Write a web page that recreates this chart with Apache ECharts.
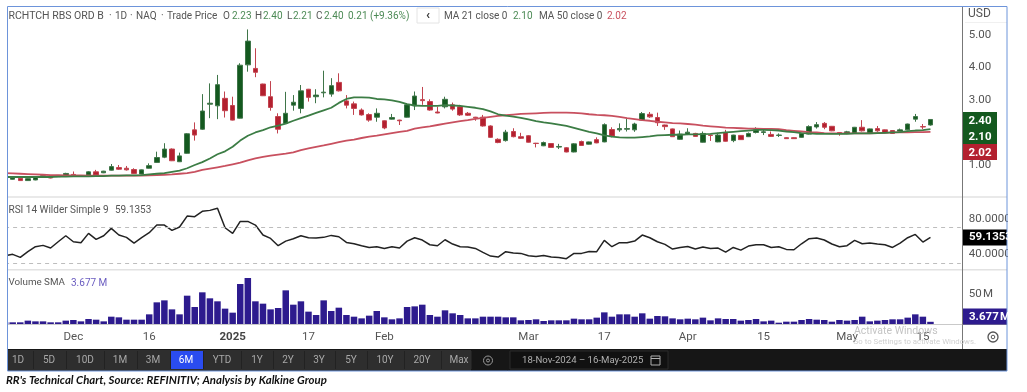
<!DOCTYPE html>
<html>
<head>
<meta charset="utf-8">
<title>RR technical chart</title>
<script src="https://cdn.jsdelivr.net/npm/echarts@6/dist/echarts.min.js"></script>
<style>
  html, body { margin: 0; padding: 0; background: #fff; }
  #chart { width: 1027px; height: 392px; }
</style>
</head>
<body>
<div id="chart"></div>
<script>
// trading days shown, first one sits just off the left edge of the plot
const dates = [
  '2024-11-18','2024-11-19','2024-11-20','2024-11-21','2024-11-22','2024-11-25','2024-11-26','2024-11-27','2024-11-29',
  '2024-12-02','2024-12-03','2024-12-04','2024-12-05','2024-12-06','2024-12-09','2024-12-10','2024-12-11','2024-12-12','2024-12-13',
  '2024-12-16','2024-12-17','2024-12-18','2024-12-19','2024-12-20','2024-12-23','2024-12-24','2024-12-26','2024-12-27','2024-12-30','2024-12-31',
  '2025-01-02','2025-01-03','2025-01-06','2025-01-07','2025-01-08','2025-01-10','2025-01-13','2025-01-14','2025-01-15','2025-01-16','2025-01-17',
  '2025-01-21','2025-01-22','2025-01-23','2025-01-24','2025-01-27','2025-01-28','2025-01-29','2025-01-30','2025-01-31',
  '2025-02-03','2025-02-04','2025-02-05','2025-02-06','2025-02-07','2025-02-10','2025-02-11','2025-02-12','2025-02-13','2025-02-14',
  '2025-02-18','2025-02-19','2025-02-20','2025-02-21','2025-02-24','2025-02-25','2025-02-26','2025-02-27','2025-02-28',
  '2025-03-03','2025-03-04','2025-03-05','2025-03-06','2025-03-07','2025-03-10','2025-03-11','2025-03-12','2025-03-13','2025-03-14',
  '2025-03-17','2025-03-18','2025-03-19','2025-03-20','2025-03-21','2025-03-24','2025-03-25','2025-03-26','2025-03-27','2025-03-28','2025-03-31',
  '2025-04-01','2025-04-02','2025-04-03','2025-04-04','2025-04-07','2025-04-08','2025-04-09','2025-04-10','2025-04-11',
  '2025-04-14','2025-04-15','2025-04-16','2025-04-17','2025-04-21','2025-04-22','2025-04-23','2025-04-24','2025-04-25','2025-04-28','2025-04-29','2025-04-30',
  '2025-05-01','2025-05-02','2025-05-05','2025-05-06','2025-05-07','2025-05-08','2025-05-09','2025-05-12','2025-05-13','2025-05-14','2025-05-15','2025-05-16'
];
// empty slots to the right of the last session
const blankSlots = ['', ' ', '  ', '   '];

const tickLabels = {
  '2024-12-02': 'Dec', '2024-12-16': '16', '2025-01-02': '2025', '2025-01-17': '17',
  '2025-02-03': 'Feb', '2025-03-03': 'Mar', '2025-03-17': '17', '2025-04-01': 'Apr',
  '2025-04-15': '15', '2025-05-01': 'May', '2025-05-15': '15'
};

// [open, close, low, high]
const ohlc = [
  [.55,.60,.54,.61],
  [.56,.61,.55,.62],[.59,.52,.51,.60],[.52,.58,.51,.59],[.54,.64,.53,.65],[.65,.67,.64,.68],
  [.63,.60,.59,.64],[.64,.68,.63,.69],[.66,.74,.65,.76],[.71,.66,.65,.80],[.65,.66,.64,.67],
  [.69,.79,.68,.81],[.79,.69,.68,.85],[.76,.81,.75,.82],[.84,.95,.83,1.03],[.92,.87,.85,1.00],
  [.90,.85,.83,.97],[.86,.74,.73,.90],[.72,.85,.71,.86],[.90,.98,.89,1.05],[1.08,1.23,1.07,1.41],
  [1.24,1.49,1.21,1.67],[1.49,1.13,1.12,1.51],[1.10,1.28,1.09,1.38],[1.36,1.96,1.35,1.98],[2.08,1.92,1.75,2.31],
  [2.10,2.66,2.08,3.18],[2.87,2.90,2.44,3.51],[2.82,3.47,2.41,3.77],[3.05,2.67,2.46,3.26],[2.83,2.38,2.37,3.10],
  [2.44,4.07,2.43,4.13],[4.08,4.81,3.87,5.17],[3.97,3.85,3.70,4.59],[3.49,3.13,3.12,3.50],[3.10,2.77,2.67,3.58],
  [2.49,2.10,1.97,2.59],[2.28,2.59,2.26,3.25],[2.84,2.93,2.67,3.15],[2.74,3.28,2.59,3.46],[3.33,3.08,2.95,3.34],
  [3.10,3.15,2.90,3.33],[3.22,3.24,3.08,3.90],[3.18,3.44,3.10,3.67],[3.54,3.28,3.26,3.82],[2.97,2.84,2.74,3.15],
  [2.88,2.74,2.54,2.95],[2.69,2.54,2.52,2.74],[2.55,2.38,2.33,2.59],[2.47,2.59,2.33,2.74],[2.36,2.14,2.10,2.37],
  [2.41,2.46,2.40,2.57],[2.38,2.36,2.23,2.39],[2.47,2.85,2.46,2.88],[2.82,3.12,2.69,3.26],[3.01,2.98,2.85,3.40],
  [2.95,2.69,2.67,3.02],[2.63,2.60,2.59,2.79],[2.79,3.02,2.74,3.10],[2.85,2.72,2.67,2.92],[2.79,2.54,2.51,2.85],
  [2.59,2.53,2.51,2.63],[2.47,2.45,2.36,2.48],[2.47,2.20,2.18,2.54],[2.20,1.85,1.83,2.22],[1.79,1.69,1.67,1.82],
  [1.75,2.01,1.72,2.08],[2.03,1.87,1.85,2.13],[1.87,1.82,1.80,1.99],[1.90,1.70,1.69,1.92],[1.67,1.66,1.54,1.68],
  [1.59,1.69,1.58,1.72],[1.66,1.54,1.53,1.67],[1.55,1.57,1.49,1.65],[1.53,1.40,1.39,1.55],[1.40,1.65,1.39,1.67],
  [1.72,1.60,1.59,1.75],[1.64,1.71,1.63,1.72],[1.78,1.68,1.67,1.85],[1.71,2.24,1.70,2.28],[2.09,1.89,1.85,2.16],
  [2.08,2.12,2.02,2.28],[2.10,2.12,2.03,2.43],[2.08,2.26,2.02,2.30],[2.38,2.58,2.36,2.63],[2.56,2.48,2.45,2.63],
  [2.46,2.30,2.20,2.61],[2.23,2.18,2.08,2.24],[2.11,1.87,1.86,2.12],[1.79,1.95,1.77,2.06],[1.94,2.01,1.92,2.13],
  [1.97,1.88,1.87,1.99],[1.70,1.97,1.69,2.03],[1.92,1.91,1.74,1.93],[1.71,1.92,1.70,1.99],[2.00,1.73,1.72,2.08],
  [1.75,1.92,1.70,1.93],[1.91,1.78,1.77,1.92],[1.87,1.97,1.86,2.00],[2.00,2.08,1.97,2.16],[2.00,2.02,1.92,2.08],
  [1.94,1.88,1.87,2.03],[1.91,1.92,1.86,1.97],[1.84,1.81,1.80,1.85],[1.84,1.81,1.80,1.85],[1.85,1.97,1.84,1.98],
  [1.95,2.18,1.94,2.22],[2.17,2.24,2.12,2.32],[2.28,2.16,2.10,2.32],[2.19,2.05,2.04,2.20],[2.00,1.97,1.90,2.01],
  [1.97,2.02,1.95,2.05],[1.97,2.16,1.96,2.17],[2.16,2.05,2.03,2.38],[1.97,2.11,1.96,2.12],[2.12,2.05,2.02,2.20],
  [2.08,2.00,1.99,2.09],[2.06,1.97,1.96,2.07],[2.04,2.08,2.02,2.12],[2.08,2.26,2.07,2.27],[2.41,2.49,2.33,2.57],
  [2.18,2.17,2.10,2.26],[2.23,2.40,2.21,2.40]
];

const ma21 = [
  .63,.63,.63,.63,.63,.63,.63,.64,.64,.65,.65,.65,.66,.66,.67,.67,.68,.68,.69,.71,.73,.75,.79,.83,.90,
  1.00,1.09,1.20,1.33,1.42,1.56,1.75,1.90,2.00,2.07,2.16,2.21,2.27,2.36,2.44,2.52,2.60,2.68,2.76,2.91,3.03,3.08,3.08,3.07,3.03,
  3.02,2.99,2.94,2.87,2.83,2.82,2.82,2.82,2.84,2.83,2.82,2.79,2.76,2.72,2.65,2.56,2.52,2.49,2.45,2.40,2.35,2.31,2.28,2.24,2.20,
  2.14,2.08,2.02,1.97,1.91,1.87,1.85,1.84,1.84,1.86,1.88,1.91,1.92,1.93,1.93,1.94,1.94,1.95,1.96,1.98,2.00,2.02,2.04,2.06,2.08,
  2.08,2.07,2.06,2.03,2.01,1.98,1.97,1.96,1.96,1.96,1.96,1.96,1.97,1.97,1.97,1.98,1.99,2.00,2.01,2.04,2.06,2.07,2.10
];

const ma50 = [
  .75,.74,.73,.72,.71,.70,.69,.69,.68,.68,.68,.67,.67,.67,.67,.67,.67,.67,.67,.68,.69,.70,.71,.73,.75,
  .79,.85,.89,.93,.97,1.02,1.07,1.14,1.20,1.25,1.29,1.32,1.35,1.39,1.46,1.51,1.56,1.60,1.65,1.70,1.75,1.78,1.83,1.87,1.90,
  1.94,1.98,2.02,2.05,2.12,2.16,2.19,2.23,2.27,2.31,2.35,2.38,2.42,2.45,2.48,2.51,2.53,2.55,2.57,2.58,2.59,2.60,2.61,2.61,2.61,
  2.60,2.59,2.56,2.54,2.53,2.51,2.48,2.44,2.41,2.38,2.36,2.33,2.31,2.29,2.28,2.26,2.24,2.21,2.19,2.17,2.15,2.14,2.13,2.12,2.12,
  2.11,2.11,2.10,2.07,2.05,2.03,2.01,2.00,1.98,1.97,1.97,1.97,1.97,1.97,1.97,1.98,1.99,2.00,2.00,2.00,2.01,2.01,2.02
];

const rsi = [
  38.5,
  40.0,36.6,43.0,48.6,50.1,47.1,54.2,60.9,54.2,53.1,63.6,56.8,60.9,69.2,61.7,59.1,52.7,58.7,64.3,72.9,
  72.9,66.9,70.7,83.0,82.3,88.3,89.4,91.7,69.9,63.6,77.0,77.0,72.9,61.7,57.9,49.7,54.9,57.6,60.9,58.7,
  58.3,59.1,61.3,59.8,53.4,51.9,49.7,47.8,48.6,46.7,48.6,47.1,54.9,58.7,56.1,50.8,49.7,56.4,51.6,48.6,
  48.2,46.7,42.2,38.1,37.0,43.0,41.5,41.1,38.5,37.7,38.8,37.0,36.6,35.1,41.1,41.1,43.3,43.0,55.7,48.6,
  53.1,53.1,54.9,61.7,58.7,54.2,51.2,46.0,47.8,48.9,46.0,48.2,46.7,47.1,42.6,47.8,44.8,49.3,50.8,50.8,
  47.8,48.6,45.6,45.2,51.9,57.6,58.3,56.1,51.6,48.6,49.7,55.7,51.9,52.7,51.6,50.8,47.8,52.7,58.7,62.4,
  53.8,59.1353
];

// millions of shares
const volume = [
  2.8,
  2.8,2.8,5.6,4.4,4.4,2.8,2.8,5.6,6.7,4.4,8.3,7.2,4.4,12.2,11.1,7.2,7.2,7.2,16.1,36.1,
  39.4,24.4,16.1,47.2,28.3,52.8,42.8,37.8,25.6,18.9,66.7,76.7,37.8,33.9,24.4,26.7,56.1,32.2,37.8,20.6,
  15,39.4,21.7,27.2,15,12.2,9.4,13.9,21.7,11.1,7.8,9.4,28.3,29.4,32.2,15,12.2,22.8,17.8,15,
  9.4,9.4,12.2,12.2,12.2,11.1,11.1,6.1,6.7,7.8,5,6.1,6.1,6.1,8.9,7.8,7.8,10.6,19.4,12.2,
  16.1,16.1,12.2,17.8,8.9,13.3,12.8,9.4,7.8,8.9,7.8,10.6,6.1,9.4,8.3,8.3,5.6,6.7,8.3,4.4,
  5.6,2.2,3.9,3.9,6.7,8.3,7.2,6.7,3.9,6.7,5.6,6.7,12.2,4.4,5.6,6.7,7.8,7.8,10.6,16.1,
  12.2,3.677
];

const rangeButtons = ['1D','5D','10D','1M','3M','6M','YTD','1Y','2Y','3Y','5Y','10Y','20Y','Max'];
const rangeCentres = [18,49,85,120,153,186,222,257,288,319,351,385,422,459];
const rangeEdges = [7,33,66,104,137,170,203,241,273,304,335,367,404,441,471];

const GREEN = '#14591f';
const RED = '#b3202f';
const GREY = '#555';
const LEGEND_GREEN = '#4c8a55';
const LEGEND_RED = '#c9505e';
const FONT = 'Roboto, "Liberation Sans", sans-serif';

// legend row pieces: text, left edge, colour
const legendPieces = [
  ['·', 109, GREY], ['1D', 115, GREY], ['·', 130, GREY], ['NAQ', 136, GREY], ['·', 161, GREY], ['Trade Price', 167, GREY],
  ['O', 223, GREY], ['2.23', 232, LEGEND_GREEN], ['H', 255, GREY], ['2.40', 263, LEGEND_GREEN],
  ['L', 287, GREY], ['2.21', 293, LEGEND_GREEN], ['C', 316, GREY], ['2.40', 324, LEGEND_GREEN],
  ['0.21 (+9.36%)', 348, LEGEND_GREEN],
  ['MA 21 close 0', 444, GREY], ['2.10', 513, LEGEND_GREEN], ['MA 50 close 0', 539, GREY], ['2.02', 607, LEGEND_RED]
];

const categories = dates.concat(blankSlots);

const chart = echarts.init(document.getElementById('chart'), null, { renderer: 'canvas' });

function txt(x, y, text, size, color, extra) {
  return {
    type: 'text', z: 101, x: x, y: y, silent: true,
    style: Object.assign({ text: text, fontSize: size, fill: color, fontFamily: FONT, verticalAlign: 'middle' }, extra || {})
  };
}
function box(x, y, w, h, fill, extra) {
  return {
    type: 'rect', z: 100, silent: true,
    shape: { x: x, y: y, width: w, height: h },
    style: Object.assign({ fill: fill }, extra || {})
  };
}
function line(x1, y1, x2, y2, color, w) {
  return {
    type: 'line', z: 100, silent: true,
    shape: { x1: x1, y1: y1, x2: x2, y2: y2 },
    style: { stroke: color, lineWidth: w || 1 }
  };
}

function chrome() {
  const els = [
    // masks round the frame
    box(0, 0, 7, 392, '#fff'),
    box(1008, 0, 19, 392, '#fff'),
    // panel dividers and price scale rule
    line(8, 197, 1007, 197, '#e2e2e2', 1.5),
    line(8, 269.7, 1007, 269.7, '#e2e2e2', 1.5),
    line(8, 324.5, 962, 324.5, '#c9c9c9', 1),
    line(962.5, 6, 962.5, 349, '#777', 1),
    line(962.5, 324.5, 1007, 324.5, '#999', 1),
    line(965, 22.5, 1007, 22.5, '#f0f0f0', 1),

    // legend row
    txt(8.5, 16, 'RCHTCH RBS ORD B', 10.5, GREY),
    box(417, 8, 22, 15, '#fff', { stroke: '#e4e4e4', lineWidth: 1 }),
    txt(428, 15.5, '‹', 13, '#333', { align: 'center', fontWeight: 'bold' }),
    txt(968, 13.5, 'USD', 12, GREY),
    txt(8.5, 210.5, 'RSI 14 Wilder Simple 9', 10, GREY),
    txt(115, 210.5, '59.1353', 10, GREY),
    txt(8.5, 283, 'Volume SMA', 9.8, GREY),
    txt(71, 283, '3.677 M', 10, '#6a5cc0'),

    // last value flags on the scale
    box(963, 112, 34, 32, GREEN),
    box(963, 144, 34, 16, RED),
    txt(980, 120.7, '2.40', 11.5, '#fff', { align: 'center', fontWeight: 'bold' }),
    txt(980, 136.7, '2.10', 11.5, '#fff', { align: 'center', fontWeight: 'bold' }),
    txt(980, 153, '2.02', 11.5, '#fff', { align: 'center', fontWeight: 'bold' }),
    box(963, 229.5, 44, 16, '#000'),
    txt(969, 237.5, '59.1353', 11.5, '#fff', { fontWeight: 'bold' }),
    box(963, 308.5, 44, 16, '#2d1b8e'),
    txt(969, 316.7, '3.677\u200aM', 11.5, '#fff', { fontWeight: 'bold' }),

    // watermark
    txt(854, 331, 'Activate Windows', 10.5, '#c4c4c4'),
    txt(853, 342, 'Go to Settings to activate Windows.', 7.8, '#cfcfcf'),

    // gear under the scale
    { type: 'circle', z: 100, silent: true, shape: { cx: 993, cy: 337, r: 5 }, style: { fill: 'none', stroke: '#555', lineWidth: 1.3 } },
    { type: 'circle', z: 100, silent: true, shape: { cx: 993, cy: 337, r: 1.8 }, style: { fill: 'none', stroke: '#555', lineWidth: 1 } },

    // bottom toolbar
    box(7, 349, 1000, 22, '#161616'),
    box(7, 350, 464, 21, '#2e2e2e')
  ];

  legendPieces.forEach(function (p) {
    els.push(txt(p[1], 16, p[0], 10, p[2]));
  });

  rangeButtons.forEach(function (b, i) {
    if (b === '6M') {
      els.push(box(rangeEdges[i], 351, rangeEdges[i + 1] - rangeEdges[i], 18, '#2a4cf0'));
    }
    if (i > 0) {
      els.push(line(rangeEdges[i] + .5, 351, rangeEdges[i] + .5, 369, '#222', 1));
    }
    els.push(txt(rangeCentres[i], 360.5, b, 10, b === '6M' ? '#fff' : '#a8a8a8', { align: 'center' }));
  });

  els.push(
    line(471.5, 351, 471.5, 369, '#222', 1),
    { type: 'circle', z: 100, silent: true, shape: { cx: 488, cy: 360.5, r: 4.5 }, style: { fill: 'none', stroke: '#999', lineWidth: 1 } },
    { type: 'circle', z: 100, silent: true, shape: { cx: 488, cy: 360.5, r: 1.5 }, style: { fill: 'none', stroke: '#999', lineWidth: 1 } },
    box(510, 351, 158, 18, '#111', { stroke: '#2a2a2a', lineWidth: 1 }),
    txt(522, 360.5, '18-Nov-2024 – 16-May-2025', 9.6, '#b0b0b0'),
    box(651, 356, 9, 9, 'none', { stroke: '#b0b0b0', lineWidth: 1 }),
    line(651, 358.5, 660, 358.5, '#b0b0b0', 1),

    // frame
    box(7.5, 6.5, 999.5, 364.5, 'none', { stroke: '#6d94da', lineWidth: 1 }),

    // caption under the picture
    txt(6, 380.5, "RR's Technical Chart, Source: REFINITIV; Analysis by Kalkine Group", 11.4, '#111', {
      fontFamily: 'Lato, "Open Sans", sans-serif', fontWeight: 'bold', fontStyle: 'italic'
    })
  );
  return els;
}

const GRID_LEFT = 5.1;
const GRID_WIDTH = 955.7;

const option = {
  animation: false,
  backgroundColor: '#fff',
  textStyle: { fontFamily: FONT },
  grid: [
    { left: GRID_LEFT, width: GRID_WIDTH, top: 6, height: 191.5 },
    { left: GRID_LEFT, width: GRID_WIDTH, top: 198, height: 71.5 },
    { left: GRID_LEFT, width: GRID_WIDTH, top: 270, height: 54 }
  ],
  xAxis: [
    { type: 'category', gridIndex: 0, data: categories, boundaryGap: false, axisLine: { show: false }, axisTick: { show: false }, axisLabel: { show: false } },
    { type: 'category', gridIndex: 1, data: categories, boundaryGap: false, axisLine: { show: false }, axisTick: { show: false }, axisLabel: { show: false } },
    {
      type: 'category', gridIndex: 2, data: categories, boundaryGap: false,
      axisLine: { show: false }, axisTick: { show: false },
      axisLabel: {
        margin: 7, fontSize: 11.5, color: GREY, fontFamily: FONT,
        interval: function (i, v) { return tickLabels[v] !== undefined; },
        formatter: function (v) {
          const t = tickLabels[v] || '';
          return t === '2025' ? '{b|2025}' : t;
        },
        rich: { b: { fontWeight: 'bold', fontSize: 11.5, color: '#444', fontFamily: FONT } }
      }
    }
  ],
  yAxis: [
    {
      type: 'value', gridIndex: 0, position: 'right', min: 0, max: 5.89, interval: 1,
      axisLine: { show: false }, axisTick: { show: false }, splitLine: { show: false },
      axisLabel: {
        margin: 8, fontSize: 11.5, color: GREY, fontFamily: FONT, showMaxLabel: false,
        padding: [4, 0, 0, 0],
        formatter: function (v) { return v === 0 ? '' : v.toFixed(2); }
      }
    },
    {
      type: 'value', gridIndex: 1, position: 'right', min: 23, max: 103.3,
      axisLine: { show: false }, axisTick: { show: false }, splitLine: { show: false },
      axisLabel: {
        margin: 8, fontSize: 11.5, color: GREY, fontFamily: FONT,
        customValues: [40, 80],
        formatter: function (v) { return v.toFixed(4); }
      }
    },
    {
      type: 'value', gridIndex: 2, position: 'right', min: 0, max: 90,
      axisLine: { show: false }, axisTick: { show: false }, splitLine: { show: false },
      axisLabel: {
        margin: 8, fontSize: 11.5, color: GREY, fontFamily: FONT,
        customValues: [50],
        formatter: function (v) { return v + '\u200aM'; }
      }
    }
  ],
  series: [
    {
      name: 'Price', type: 'candlestick', xAxisIndex: 0, yAxisIndex: 0, data: ohlc, barWidth: 5,
      itemStyle: { color: GREEN, color0: RED, borderColor: '#3f7549', borderColor0: '#c2434f', borderWidth: 1 }
    },
    {
      name: 'MA 50', type: 'line', xAxisIndex: 0, yAxisIndex: 0, data: ma50, showSymbol: false,
      lineStyle: { color: '#c8505f', width: 1.8 }
    },
    {
      name: 'MA 21', type: 'line', xAxisIndex: 0, yAxisIndex: 0, data: ma21, showSymbol: false,
      lineStyle: { color: '#3c7d45', width: 1.8 }
    },
    {
      name: 'RSI', type: 'line', xAxisIndex: 1, yAxisIndex: 1, data: rsi, showSymbol: false,
      lineStyle: { color: '#222', width: 1.5 },
      markLine: {
        silent: true, symbol: 'none', label: { show: false },
        lineStyle: { color: '#bdbdbd', type: [4, 4], width: 1 },
        data: [{ yAxis: 70 }, { yAxis: 30 }]
      }
    },
    {
      name: 'Volume', type: 'bar', xAxisIndex: 2, yAxisIndex: 2, data: volume, barWidth: 6.5,
      itemStyle: { color: '#2d1b8e' }
    }
  ],
  graphic: { elements: chrome() }
};

chart.setOption(option);
</script>
</body>
</html>
